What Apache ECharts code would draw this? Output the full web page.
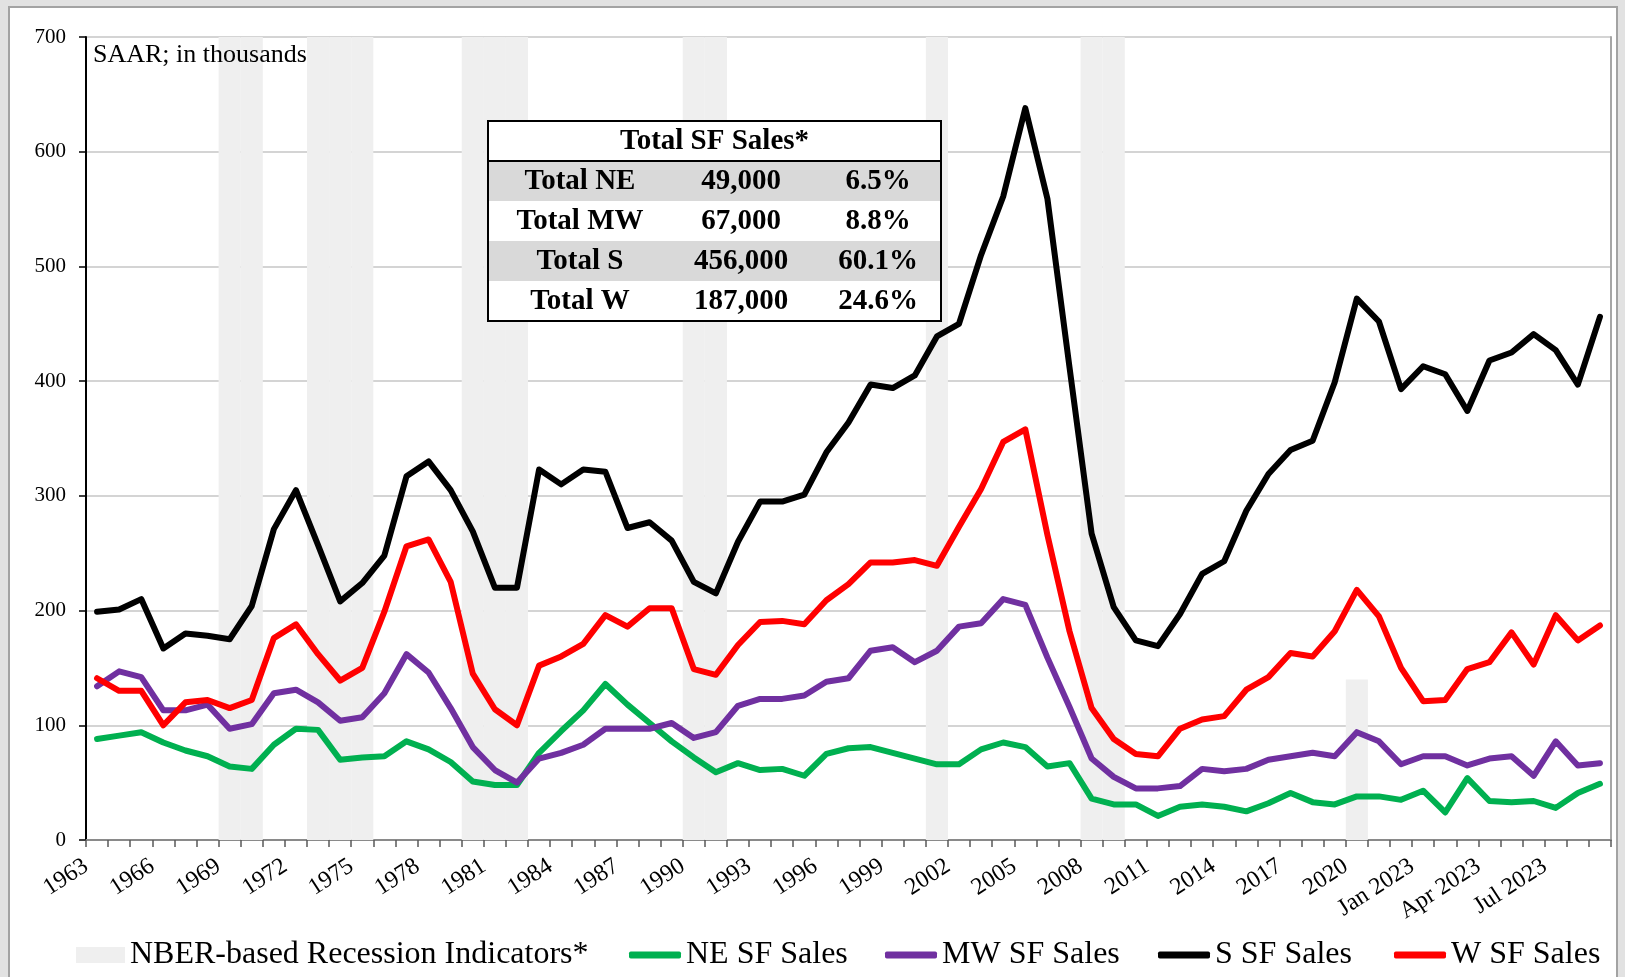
<!DOCTYPE html>
<html>
<head>
<meta charset="utf-8">
<script src="https://cdn.jsdelivr.net/npm/echarts@6/dist/echarts.min.js"></script>
<style>
html,body{margin:0;padding:0;background:#e2e2e2;overflow:hidden;}
#panel{position:absolute;left:8px;top:6px;width:1610px;height:990px;background:#fff;border:2px solid #a3a3a3;box-sizing:border-box;}
#c{position:absolute;left:0;top:0;width:1625px;height:977px;}
</style>
</head>
<body>
<div id="panel"></div>
<div id="c"></div>
<script>
const categories = ["1963","1964","1965","1966","1967","1968","1969","1970","1971","1972",
"1973","1974","1975","1976","1977","1978","1979","1980","1981","1982",
"1983","1984","1985","1986","1987","1988","1989","1990","1991","1992",
"1993","1994","1995","1996","1997","1998","1999","2000","2001","2002",
"2003","2004","2005","2006","2007","2008","2009","2010","2011","2012",
"2013","2014","2015","2016","2017","2018","2019","2020","2021","2022",
"Jan 2023","Feb 2023","Mar 2023","Apr 2023","May 2023","Jun 2023","Jul 2023","Aug 2023","Sep 2023"];

const neSales = [88,91,94,85,78,73,64,62,83,97,
96,70,72,73,86,79,68,51,48,48,
76,95,113,136,118,102,86,72,59,67,
61,62,56,75,80,81,76,71,66,66,
79,85,81,64,67,36,31,31,21,29,
31,29,25,32,41,33,31,38,38,35,
43,24,54,34,33,34,28,41,49];

const mwSales = [134,147,142,113,113,118,97,101,128,131,
120,104,107,128,162,146,115,81,61,50,
71,76,83,97,97,97,102,89,94,117,
123,123,126,138,141,165,168,155,165,186,
189,210,205,159,116,71,55,45,45,47,
62,60,62,70,73,76,73,94,86,66,
73,73,65,71,73,56,86,65,67];

const sSales = [199,201,210,167,180,178,175,204,271,305,
257,208,224,248,317,330,305,269,220,220,
323,310,323,321,272,277,261,225,215,260,
295,295,301,338,364,397,394,405,439,450,
510,561,638,559,412,267,203,174,169,197,
232,243,287,319,340,348,399,472,452,393,
413,406,374,418,425,441,427,397,456];

const wSales = [141,130,130,100,120,122,115,122,176,188,
162,139,150,199,256,262,225,145,114,100,
152,160,171,196,186,202,202,149,144,170,
190,191,188,209,223,242,242,244,239,273,
306,347,358,266,182,115,88,75,73,97,
105,108,131,142,163,160,182,218,195,150,
121,122,149,155,181,153,196,174,187];

const recession = [null,null,null,null,null,null,700,700,null,null,
700,700,700,null,null,null,null,700,700,700,
null,null,null,null,null,null,null,700,700,null,
null,null,null,null,null,null,null,null,700,null,
null,null,null,null,null,700,700,null,null,null,
null,null,null,null,null,null,null,140,null,null,
null,null,null,null,null,null,null,null,null];

const yMin = 0, yMax = 700, yStep = 100;

const seriesNames = ["NBER-based Recession Indicators*","NE SF Sales","MW SF Sales","S SF Sales","W SF Sales"];
const seriesColors = ["#efefef","#00b050","#7030a0","#000000","#ff0000"];

const noteText = "SAAR; in thousands";
const tableTitle = "Total SF Sales*";
const tableLabels = ["Total NE","Total MW","Total S","Total W"];
const tableValues = ["49,000","67,000","456,000","187,000"];
const tableShares = ["6.5%","8.8%","60.1%","24.6%"];

const FAM = 'Liberation Serif';

// ---- table graphic ----
const tX = 488, tY = 121, tW = 453, rowH = 40;
const tableEls = [];
tableEls.push({type:'rect', shape:{x:tX,y:tY,width:tW,height:rowH*5}, style:{fill:'#fff',stroke:'#000',lineWidth:2}, z:100});
tableLabels.forEach((lab,i)=>{
  const y = tY + rowH*(i+1);
  if (i % 2 === 0) {
    tableEls.push({type:'rect', shape:{x:tX+1,y:y,width:tW-2,height:rowH}, style:{fill:'#d9d9d9'}, z:101});
  }
  const cy = y + rowH/2 + 1;
  const ts = {fontFamily:FAM, fontSize:29, fontWeight:'bold', fill:'#000', align:'center', verticalAlign:'middle'};
  tableEls.push({type:'text', x:580, y:cy, style:Object.assign({text:lab}, ts), z:103});
  tableEls.push({type:'text', x:741, y:cy, style:Object.assign({text:tableValues[i]}, ts), z:103});
  tableEls.push({type:'text', x:878, y:cy, style:Object.assign({text:tableShares[i]}, ts), z:103});
});
tableEls.push({type:'line', shape:{x1:tX,y1:tY+rowH,x2:tX+tW,y2:tY+rowH}, style:{stroke:'#000',lineWidth:2}, z:104});
tableEls.push({type:'rect', shape:{x:tX,y:tY,width:tW,height:rowH*5}, style:{fill:null,stroke:'#000',lineWidth:2}, z:105});
tableEls.push({type:'text', x:tX+tW/2, y:tY+rowH/2+1, style:{text:tableTitle, fontFamily:FAM, fontSize:29, fontWeight:'bold', fill:'#000', align:'center', verticalAlign:'middle'}, z:103});
tableEls.push({type:'text', x:93, y:55, style:{text:noteText, fontFamily:FAM, fontSize:26, fill:'#000', align:'left', verticalAlign:'middle'}, z:103});

const legendLefts = [71, 624, 880, 1153, 1389];
const legends = seriesNames.map((n,i)=>({
  show:true, left:legendLefts[i], top:934, data:[{name:n, icon: i===0 ? 'rect' : 'roundRect', itemStyle:{color:seriesColors[i]}}],
  selectedMode:false,
  itemWidth: i===0 ? 49 : 52, itemHeight: i===0 ? 16 : 7, itemGap:0,
  textStyle:{fontFamily:FAM, fontSize:32, color:'#000'}
}));

const lineSeries = [neSales, mwSales, sSales, wSales].map((d,k)=>({
  name: seriesNames[k+1], type:'line', data:d, xAxisIndex:0, yAxisIndex:0,
  showSymbol:false, symbol:'none', smooth:false, z:5+k,
  lineStyle:{color:seriesColors[k+1], width:6, cap:'round', join:'round'},
  itemStyle:{color:seriesColors[k+1]},
  emphasis:{disabled:true}, animation:false
}));

const chart = echarts.init(document.getElementById('c'), null, {renderer:'canvas'});
chart.setOption({
  backgroundColor:'transparent',
  animation:false,
  textStyle:{fontFamily:FAM},
  grid:{left:86, right:14, top:37, bottom:137, containLabel:false},
  legend: legends,
  xAxis:{
    type:'category', data:categories, boundaryGap:true,
    axisLine:{show:true, lineStyle:{color:'#8a8a8a', width:2}},
    axisTick:{show:true, interval:0, length:7, lineStyle:{color:'#595959', width:1.5}},
    axisLabel:{interval:2, rotate:33, margin:17, padding:[0,13,0,0], fontFamily:FAM, fontSize:24, color:'#000'},
    splitLine:{show:false}
  },
  yAxis:[{
    type:'value', min:yMin, max:yMax, interval:yStep,
    axisLine:{show:true, lineStyle:{color:'#000', width:2}},
    axisTick:{show:true, inside:false, length:7, lineStyle:{color:'#000', width:1.5}},
    axisLabel:{fontFamily:FAM, fontSize:21, color:'#000', margin:20},
    splitLine:{show:true, lineStyle:{color:'#d4d4d4', width:2}}
  },{
    type:'value', min:yMin, max:yMax, interval:yStep, position:'right',
    axisLine:{show:true, lineStyle:{color:'#a6a6a6', width:2}},
    axisTick:{show:false}, axisLabel:{show:false}, splitLine:{show:false}
  }],
  graphic:{elements:tableEls},
  series:[{
    name: seriesNames[0], type:'bar', data:recession, barWidth:'100%', barCategoryGap:'0%',
    itemStyle:{color:seriesColors[0]}, z:1, silent:true, emphasis:{disabled:true}
  }].concat(lineSeries)
});
</script>
</body>
</html>
